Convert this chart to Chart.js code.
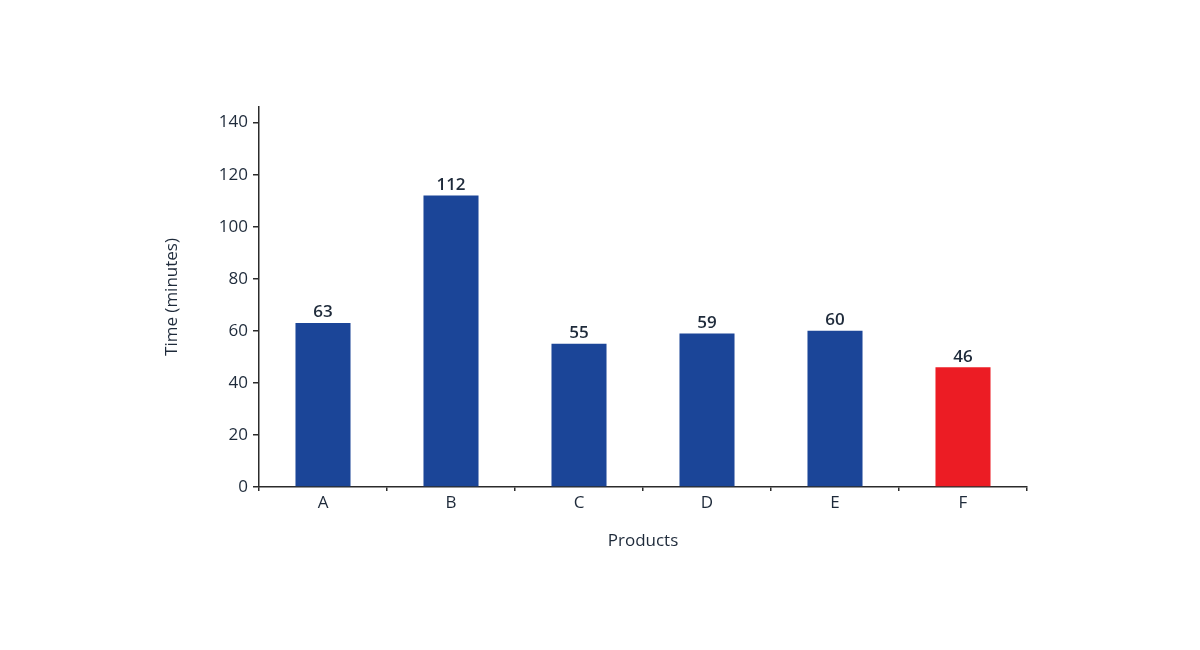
<!DOCTYPE html>
<html>
<head>
<meta charset="utf-8">
<script src="https://cdn.jsdelivr.net/npm/chart.js@4/dist/chart.umd.min.js"></script>
<style>
  html, body { margin: 0; padding: 0; background: #fff; }
  #wrap { width: 1200px; height: 650px; }
</style>
</head>
<body>
<div id="wrap"><canvas id="timeChart"></canvas></div>
<script>
var products = ["A", "B", "C", "D", "E", "F"];
var minutes = [63, 112, 55, 59, 60, 46];
var barColours = ["#1b4598", "#1b4598", "#1b4598", "#1b4598", "#1b4598", "#ec1c24"];
var yTicks = [0, 20, 40, 60, 80, 100, 120, 140];

var textColour = "#1e2a3a";
var axisColour = "#2b2b2b";
var fontFamily = "'Open Sans', sans-serif";

// writes the value on top of each bar
var valueLabels = {
  id: "valueLabels",
  afterDatasetsDraw: function(chart) {
    var ctx = chart.ctx;
    var meta = chart.getDatasetMeta(0);
    ctx.save();
    ctx.font = "600 17px " + fontFamily;
    ctx.fillStyle = textColour;
    ctx.textAlign = "center";
    ctx.textBaseline = "bottom";
    meta.data.forEach(function(bar, i) {
      ctx.fillText(minutes[i], bar.x, bar.y - 2);
    });
    ctx.restore();
  }
};

var ctx = document.getElementById("timeChart");
var myBarChart = new Chart(ctx, {
  type: "bar",
  data: {
    labels: products,
    datasets: [{
      data: minutes,
      backgroundColor: barColours,
      barPercentage: 0.43,
      categoryPercentage: 1
    }]
  },
  options: {
    responsive: true,
    maintainAspectRatio: false,
    animation: false,
    layout: { padding: { left: 158, right: 173, top: 107, bottom: 95 } },
    plugins: {
      legend: { display: false },
      tooltip: { enabled: false }
    },
    scales: {
      x: {
        grid: { drawOnChartArea: false, tickLength: 4, color: axisColour, lineWidth: 1.5 },
        border: { color: axisColour, width: 1.5 },
        ticks: { color: textColour, font: { family: fontFamily, size: 17, weight: 500 }, padding: 2 },
        title: { display: true, text: "Products", color: textColour,
                 font: { family: fontFamily, size: 17, weight: 500 }, padding: { top: 14 } },
        afterFit: function(scale) { scale.height = 68; }
      },
      y: {
        min: 0,
        max: 146,
        grid: { drawOnChartArea: false, tickLength: 6, color: axisColour, lineWidth: 1.5 },
        border: { color: axisColour, width: 1.5 },
        ticks: { color: textColour, font: { family: fontFamily, size: 17, weight: 500 }, padding: 5 },
        afterBuildTicks: function(scale) {
          scale.ticks = yTicks.map(function(v) { return { value: v }; });
        },
        title: { display: true, text: "Time (minutes)", color: textColour,
                 font: { family: fontFamily, size: 17, weight: 500 }, padding: { bottom: 0 } },
        afterFit: function(scale) { scale.width = 101; }
      }
    }
  },
  plugins: [valueLabels]
});
</script>
</body>
</html>
